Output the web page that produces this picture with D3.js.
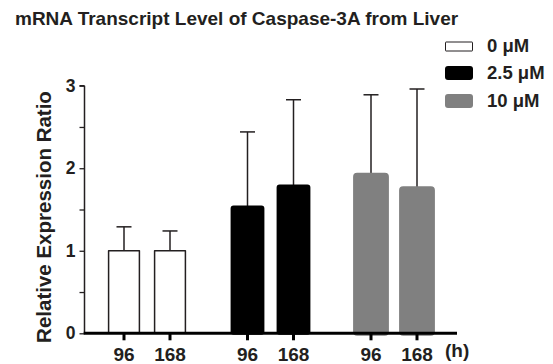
<!DOCTYPE html>
<html lang="en">
<head>
<meta charset="UTF-8">
<script src="https://d3js.org/d3.v7.min.js"></script>
<style>
body { margin: 0; background: #fff; }
svg text { font-family: "Liberation Sans", Arial, sans-serif; font-weight: bold; fill: #231f20; }
</style>
</head>
<body>
<div id="chart"></div>
<script>
// data
const groups = ["0 μM", "2.5 μM", "10 μM"];
const hours = ["96", "168"];
const means = [[1.0, 1.0], [1.53, 1.785], [1.915, 1.75]];
const errTops = [[1.29, 1.24], [2.44, 2.83], [2.89, 2.96]];
const fills = ["#ffffff", "#000000", "#808080"];
const yTicks = [0, 0.5, 1, 1.5, 2, 2.5, 3];

const width = 553, height = 364;

const svg = d3.select("#chart").append("svg")
  .attr("width", width)
  .attr("height", height);

const y = d3.scaleLinear().domain([0, 3]).range([333.3, 85.7]);
const xGroup = d3.scalePoint().domain(groups).range([147, 394]);
const xHour = d3.scaleBand().domain(hours).range([-46, 46]).paddingInner(0.33).paddingOuter(0.165);

// title
svg.append("text")
  .attr("x", 15).attr("y", 25)
  .style("font-size", "19px")
  .text("mRNA Transcript Level of Caspase-3A from Liver");

// y axis label
svg.append("text")
  .attr("transform", "translate(51,217) rotate(-90)")
  .attr("text-anchor", "middle")
  .style("font-size", "20.5px")
  .text("Relative Expression Ratio");

// y axis
const yAxis = svg.append("g")
  .attr("transform", "translate(84.5,0)")
  .call(d3.axisLeft(y).tickValues(yTicks).tickSize(5).tickPadding(4)
    .tickFormat(d => Number.isInteger(d) ? d : ""));
yAxis.select(".domain").attr("stroke", "#231f20").attr("stroke-width", 1.5).attr("d", `M0,${y(3)}H-5M0,${y(3)}V${y(0)}`);
yAxis.selectAll(".tick line").attr("stroke", "#231f20").attr("stroke-width", 1.3);
yAxis.selectAll(".tick text").style("font-size", "17.5px").attr("fill", "#231f20");

// bars
const flat = [];
groups.forEach((g, gi) => hours.forEach((h, hi) => flat.push({g, gi, h, v: means[gi][hi], e: errTops[gi][hi]})));
const bw = xHour.bandwidth();
const strokeW = [1.5, 3, 5];

const bars = svg.append("g").selectAll("g").data(flat).join("g");

// error bars (upper only)
bars.append("line")
  .attr("x1", d => xGroup(d.g) + xHour(d.h) + bw / 2)
  .attr("x2", d => xGroup(d.g) + xHour(d.h) + bw / 2)
  .attr("y1", d => y(d.v))
  .attr("y2", d => y(d.e))
  .attr("stroke", "#231f20").attr("stroke-width", 1.5);
bars.append("line")
  .attr("x1", d => xGroup(d.g) + xHour(d.h) + bw / 2 - 7.5)
  .attr("x2", d => xGroup(d.g) + xHour(d.h) + bw / 2 + 7.5)
  .attr("y1", d => y(d.e))
  .attr("y2", d => y(d.e))
  .attr("stroke", "#231f20").attr("stroke-width", 1.5);

bars.append("rect")
  .attr("x", d => xGroup(d.g) + xHour(d.h))
  .attr("y", d => y(d.v))
  .attr("width", bw)
  .attr("height", d => y(0) - y(d.v))
  .attr("rx", d => d.gi === 0 ? 0 : 1.5)
  .attr("fill", d => fills[d.gi])
  .attr("stroke", d => d.gi === 0 ? "#231f20" : fills[d.gi])
  .attr("stroke-width", d => strokeW[d.gi])
  .attr("stroke-linejoin", "round");

// x axis baseline
svg.append("line")
  .attr("x1", 83.7).attr("x2", 457)
  .attr("y1", y(0)).attr("y2", y(0))
  .attr("stroke", "#000").attr("stroke-width", 3);

// x ticks + labels
const xt = svg.append("g").selectAll("g").data(flat).join("g")
  .attr("transform", d => `translate(${xGroup(d.g) + xHour(d.h) + bw / 2},0)`);
xt.append("line")
  .attr("y1", y(0)).attr("y2", y(0) + 7)
  .attr("stroke", "#000").attr("stroke-width", 3);
xt.append("text")
  .attr("y", 361).attr("text-anchor", "middle")
  .style("font-size", "19px")
  .text(d => d.h);

svg.append("text")
  .attr("x", 445).attr("y", 357)
  .style("font-size", "19px")
  .text("(h)");

// legend
const legRows = [52, 79, 107];
const leg = svg.append("g").selectAll("g").data(groups).join("g");
leg.append("rect")
  .attr("x", (d, i) => i === 0 ? 445.5 : 445)
  .attr("y", (d, i) => i === 0 ? 42 : legRows[i] - 13)
  .attr("width", (d, i) => i === 0 ? 27 : 28)
  .attr("height", (d, i) => i === 0 ? 9 : 14)
  .attr("rx", (d, i) => i === 0 ? 0.5 : 3)
  .attr("fill", (d, i) => fills[i])
  .attr("stroke", (d, i) => i === 0 ? "#231f20" : "none")
  .attr("stroke-width", 1);
leg.append("text")
  .attr("x", 487)
  .attr("y", (d, i) => legRows[i])
  .style("font-size", "18.5px")
  .text(d => d);
</script>
</body>
</html>
